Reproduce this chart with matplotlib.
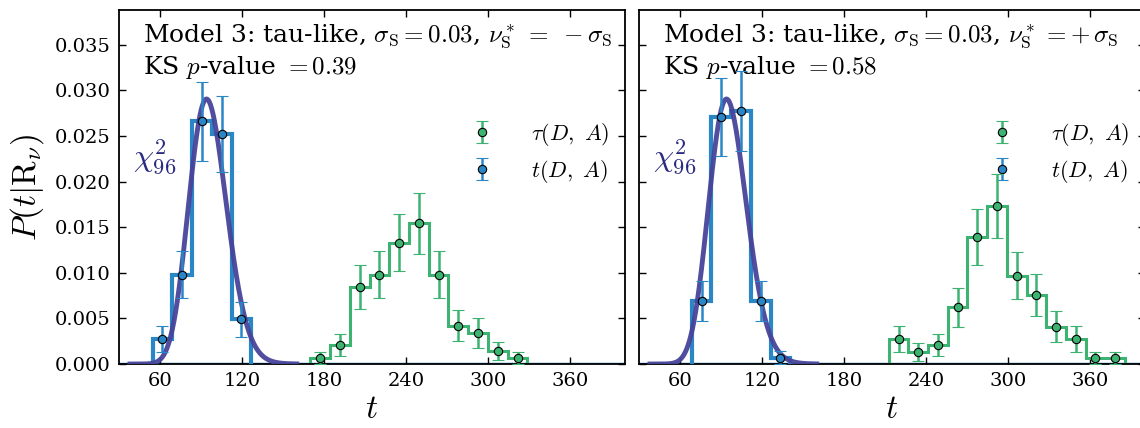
import math
import numpy as np
import matplotlib
matplotlib.use("Agg")
import matplotlib.pyplot as plt

plt.rcParams['font.family'] = ['DejaVu Serif']
plt.rcParams['mathtext.fontset'] = 'cm'
plt.rcParams['mathtext.rm'] = 'serif'

# ---------------- data ----------------
# Left panel (nu*_S = -sigma_S)
L_blue_edges = [54.6, 69.0, 83.4, 97.9, 112.3, 126.7]
L_blue_vals = [0.00275, 0.0098, 0.0266, 0.0252, 0.0049]
L_blue_errs = [0.0014, 0.0026, 0.0043, 0.0042, 0.0019]

L_green_edges = [170.0, 184.4, 198.8, 213.2, 227.6, 242.1, 256.5, 270.9,
                 285.3, 299.7, 314.2, 328.6]
L_green_vals = [0.00065, 0.00205, 0.0084, 0.0098, 0.0133, 0.0154, 0.0098,
                0.0042, 0.0034, 0.0014, 0.00065]
L_green_errs = [0.0007, 0.0012, 0.0024, 0.0026, 0.0031, 0.0033, 0.0026,
                0.0017, 0.0016, 0.0010, 0.0007]

# Right panel (nu*_S = +sigma_S)
R_blue_edges = [68.6, 83.0, 97.4, 111.8, 126.2, 140.6]
R_blue_vals = [0.0069, 0.0271, 0.0277, 0.0069, 0.0007]
R_blue_errs = [0.0022, 0.0043, 0.0044, 0.0022, 0.0007]

R_green_edges = [212.6, 227.0, 241.4, 255.8, 270.2, 284.6, 299.0, 313.4,
                 327.8, 342.2, 356.6, 371.0, 385.4]
R_green_vals = [0.00275, 0.00135, 0.00205, 0.0062, 0.0139, 0.0173, 0.0097,
                0.0076, 0.0041, 0.00275, 0.00065, 0.00065]
R_green_errs = [0.0014, 0.0010, 0.0012, 0.0021, 0.0031, 0.0035, 0.0026,
                0.0023, 0.0017, 0.0014, 0.0007, 0.0007]

chi2_dof = 96
titles = [r"Model 3: tau-like, $\sigma_{\rm S} = 0.03$, $\nu^*_{\rm S}\;=\;-\sigma_{\rm S}$",
          r"Model 3: tau-like, $\sigma_{\rm S} = 0.03$, $\nu^*_{\rm S}\,=+\,\sigma_{\rm S}$"]
pvalues = ["0.39", "0.58"]
xticks = [60, 120, 180, 240, 300, 360]
yticks = [0.000, 0.005, 0.010, 0.015, 0.020, 0.025, 0.030, 0.035]

BLUE = '#2b86c6'
GREEN = '#3cb371'
CURVE = '#47449a'
LABEL = '#2a2a80'


def chi2_pdf(x, k):
    x = np.asarray(x, dtype=float)
    logp = (k / 2 - 1) * np.log(x) - x / 2 - (k / 2) * math.log(2) - math.lgamma(k / 2)
    return np.exp(logp)


fig = plt.figure(figsize=(11.4, 4.28), dpi=100)
W, H = 1140, 428
axL = fig.add_axes([119 / W, 1 - 364 / H, 506 / W, 354 / H])
axR = fig.add_axes([639 / W, 1 - 364 / H, 506 / W, 354 / H])

panels = [
    (axL, L_blue_edges, L_blue_vals, L_blue_errs, L_green_edges, L_green_vals, L_green_errs),
    (axR, R_blue_edges, R_blue_vals, R_blue_errs, R_green_edges, R_green_vals, R_green_errs),
]

tgrid = np.linspace(38, 160, 400)

for i, (ax, be, bv, berr, ge, gv, gerr) in enumerate(panels):
    ax.axhline(0, color=BLUE, lw=2.5, zorder=1)
    ax.stairs(gv, ge, baseline=0, color=GREEN, lw=2.2, zorder=2)
    ax.stairs(bv, be, baseline=0, color=BLUE, lw=3.0, zorder=3)
    ax.plot(tgrid, chi2_pdf(tgrid, chi2_dof), color=CURVE, lw=3.5, alpha=0.95, zorder=4)

    ge_a = np.asarray(ge); be_a = np.asarray(be)
    gc = (ge_a[:-1] + ge_a[1:]) / 2
    bc = (be_a[:-1] + be_a[1:]) / 2
    hg = ax.errorbar(gc, gv, yerr=gerr, fmt='o', color=GREEN, mfc=GREEN, mec='black',
                     mew=0.8, ms=6, elinewidth=1.8, capsize=4, capthick=1.8, zorder=6)
    hb = ax.errorbar(bc, bv, yerr=berr, fmt='o', color=BLUE, mfc=BLUE, mec='black',
                     mew=0.8, ms=6, elinewidth=1.8, capsize=4, capthick=1.8, zorder=6)

    ax.set_xlim(30, 400)
    ax.set_ylim(0, 0.0388)
    ax.set_xticks(xticks)
    ax.set_yticks(yticks)
    ax.tick_params(direction='in', top=True, right=True, length=5, width=1,
                   labelsize=14, pad=6)
    for s in ax.spines.values():
        s.set_linewidth(1.3)
    if i == 0:
        ax.set_yticklabels(["%.3f" % v for v in yticks])
        ax.set_ylabel(r"$P(t|\mathrm{R}_\nu)$", fontsize=24, labelpad=6)
    else:
        ax.set_yticklabels([])
    ax.set_xlabel(r"$t$", fontsize=24, labelpad=2)

    ax.text(0.048, 0.965, titles[i] + "\n" + r"KS $p$-value $= %s$" % pvalues[i],
            transform=ax.transAxes, ha='left', va='top', fontsize=18, linespacing=1.2)
    ax.text(0.028, 0.585, r"$\chi^2_{96}$", transform=ax.transAxes, ha='left',
            va='center', fontsize=23, color=LABEL)

    leg = ax.legend([hg, hb], [r"$\tau(D,\ A)$", r"$t(D,\ A)$"], loc='upper right',
                    bbox_to_anchor=(1.0, 0.73), frameon=False, fontsize=16,
                    numpoints=1, handletextpad=1.2, labelspacing=0.45,
                    borderaxespad=0.3)

fig.savefig("out.png", dpi=100)
